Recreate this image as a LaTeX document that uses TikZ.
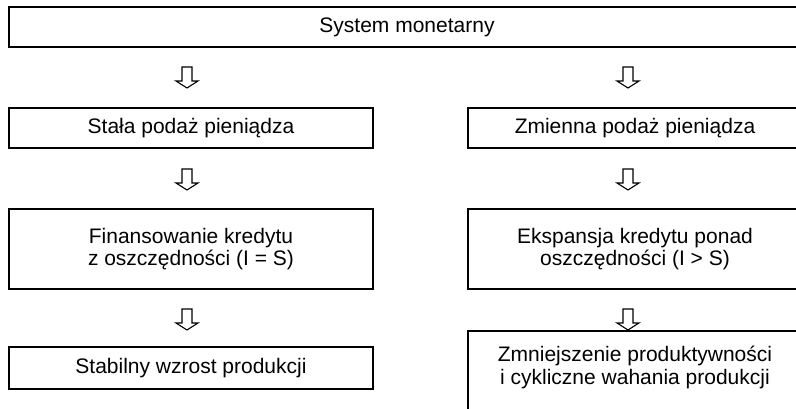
\documentclass[tikz,border=0pt]{standalone}
\usepackage{fontspec}
\setmainfont{Liberation Sans}
\usetikzlibrary{fit}
\tikzset{
  box/.style={draw=black, line width=1.2pt, fill=white, inner sep=0pt, align=center,
    font=\fontsize{21}{22.5}\selectfont},
  txt/.style={inner sep=0pt, align=center, font=\fontsize{21}{22.5}\selectfont},
  blockarrow/.pic={\draw[line width=1.1pt, fill=white, line join=miter]
      (-5,0) -- (5,0) -- (5,14) -- (11,14) -- (0,21) -- (-11,14) -- (-5,14) -- cycle;}
}
\begin{document}
\begin{tikzpicture}[x=1pt,y=-1pt]
\useasboundingbox (0,0) rectangle (796,409);
% top
\node[box, minimum width=796pt, minimum height=40pt] (top) at (407,27) {System monetarny};
% row 1
\node[box, minimum width=364pt, minimum height=40pt] (l1) at (191,128) {Stała podaż pieniądza};
\node[box, minimum width=334pt, minimum height=40pt] (r1) at (635,128) {Zmienna podaż pieniądza};
% row 2
\node[box, minimum width=364pt, minimum height=80pt] (l2) at (191,249) {Finansowanie kredytu\\z oszczędności (I = S)};
\node[box, minimum width=334pt, minimum height=80pt] (r2) at (635,249) {Ekspansja kredytu ponad\\oszczędności (I > S)};
% row 3
\node[box, minimum width=364pt, minimum height=42pt] (l3) at (191,368) {Stabilny wzrost produkcji};
\coordinate (r3nw) at (468,331);
\coordinate (r3se) at (802,430);
\node[draw=black, line width=1.2pt, fit=(r3nw)(r3se), inner sep=0pt] (r3box) {};
\node[txt] (r3) at (635,367.5) {Zmniejszenie produktywności\\i cykliczne wahania produkcji};
% arrows
\pic at (187,67) {blockarrow};
\pic at (628,67) {blockarrow};
\pic at (187,169) {blockarrow};
\pic at (628,169) {blockarrow};
\pic at (187,309) {blockarrow};
\pic at (628,309) {blockarrow};
\end{tikzpicture}
\end{document}
